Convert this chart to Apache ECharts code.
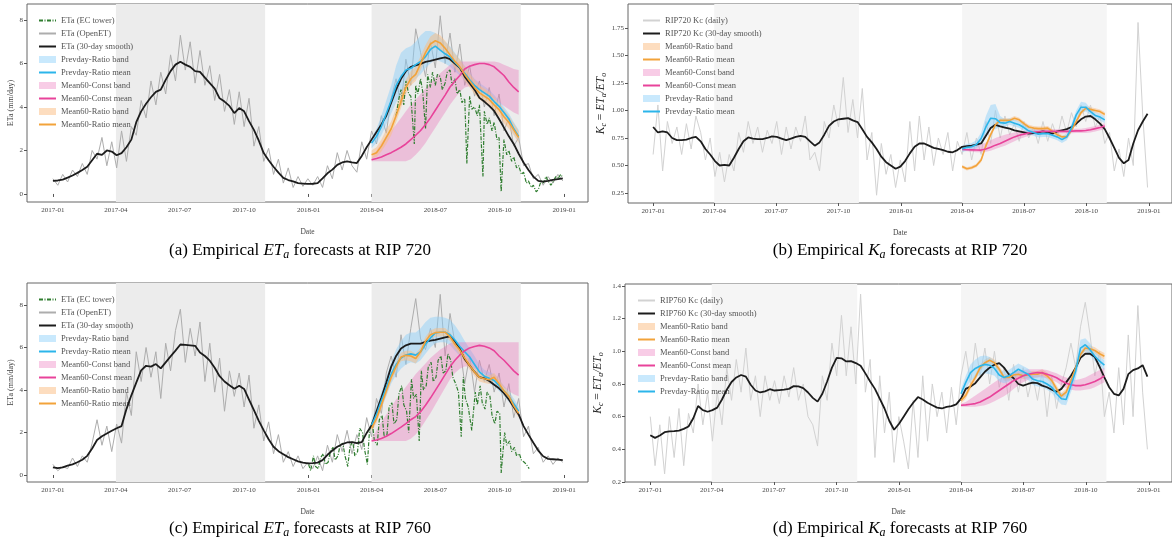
<!DOCTYPE html>
<html lang="en">
<head>
<meta charset="UTF-8">
<title>Empirical ETa / Ka forecasts</title>
<style>
  html, body { margin: 0; padding: 0; background: #fff; }
  #chart { width: 1172px; height: 542px; }
</style>
</head>
<body>
<div id="chart"></div>
<script src="https://cdn.jsdelivr.net/npm/echarts@6/dist/echarts.min.js"></script>
<script>
// ---- sample dates: weekly from 2017-01-01 (105 weeks), forecasts start at week 65 (2018-04-01)
var weekFirst = [2017, 0, 1];
var weekCount = 105;
var fcFirst = 65;
var weeks = [];
(function () {
  var t0 = Date.UTC(weekFirst[0], weekFirst[1], weekFirst[2]);
  for (var i = 0; i < weekCount; i++) weeks.push(new Date(t0 + i * 7 * 864e5).toISOString().slice(0, 10));
})();

var tickDates = ['2017-01-01', '2017-04-01', '2017-07-01', '2017-10-01', '2018-01-01', '2018-04-01', '2018-07-01', '2018-10-01', '2019-01-01'];
var tickLabels = ['2017-01', '2017-04', '2017-07', '2017-10', '2018-01', '2018-04', '2018-07', '2018-10', '2019-01'];
var spans = [['2017-04-01', '2017-10-31'], ['2018-04-01', '2018-10-31']];
var xRange = ['2016-11-25', '2019-02-04'];

// ---- (a) RIP 720 ETa
var openA = [0.7,0.4,0.9,0.55,1.1,0.8,1.4,0.9,2.0,1.6,2.6,1.3,2.4,1.2,2.9,1.5,3.1,2.7,4.3,3.5,5.2,4.1,5.6,4.6,6.4,5.2,7.3,5.7,7.0,5.1,6.6,5.0,5.9,4.3,5.5,3.8,4.8,3.2,4.7,3.1,4.4,2.2,3.1,1.5,2.1,0.9,1.6,0.5,1.2,0.3,0.8,0.35,0.7,
  0.4,0.8,0.3,1.3,0.7,1.9,1.1,2.0,1.3,1.0,2.4,1.6,2.9,2.3,3.6,2.8,4.4,5.3,4.1,6.2,5.0,7.6,6.5,5.4,7.0,5.8,8.2,6.0,7.4,5.6,6.9,5.0,5.9,4.5,5.2,4.0,4.9,3.6,4.6,2.9,3.5,2.2,2.6,1.3,1.4,0.7,0.9,0.4,0.8,0.5,0.9,0.6];
var smoothA = [0.6,0.62,0.66,0.75,0.85,0.97,1.1,1.25,1.55,1.85,1.8,2.0,1.95,1.78,1.88,2.15,2.5,3.3,3.8,4.15,4.45,4.7,4.8,5.25,5.65,5.95,6.08,5.95,5.85,5.65,5.62,5.35,5.1,4.85,4.4,4.25,4.05,3.72,3.95,3.8,3.35,2.95,2.45,1.88,1.55,1.25,0.98,0.74,0.64,0.58,0.5,0.48,0.46,
  0.47,0.5,0.72,0.95,1.12,1.34,1.45,1.5,1.45,1.42,1.75,2.15,2.5,2.85,3.2,3.6,4.2,4.8,5.3,5.65,5.85,5.92,5.98,6.08,6.12,6.18,6.24,6.28,6.2,6.0,5.8,5.4,5.1,4.8,4.42,4.25,4.05,3.82,3.45,3.05,2.65,2.3,1.85,1.45,1.1,0.8,0.6,0.57,0.6,0.65,0.68,0.72];
var towerA = [['2018-05-06',3.6],['2018-05-10',4.4],['2018-05-13',4.8],['2018-05-17',4.1],['2018-05-20',5.2],['2018-05-24',4.6],['2018-05-27',4.5],['2018-06-01',2.3],['2018-06-03',5.0],['2018-06-06',4.6],['2018-06-10',5.3],['2018-06-13',4.7],['2018-06-17',3.0],['2018-06-20',5.5],['2018-06-24',4.9],['2018-06-27',5.6],['2018-07-01',5.0],['2018-07-04',5.5],['2018-07-08',5.4],['2018-07-11',4.8],['2018-07-15',5.1],['2018-07-18',5.6],['2018-07-22',5.7],['2018-07-25',5.0],['2018-07-29',5.3],['2018-08-01',4.6],['2018-08-05',4.8],['2018-08-08',4.2],['2018-08-12',4.4],['2018-08-15',1.4],['2018-08-19',4.5],['2018-08-22',3.9],['2018-08-26',4.0],['2018-08-30',3.6],['2018-09-02',4.1],['2018-09-07',0.8],['2018-09-09',3.8],['2018-09-13',3.2],['2018-09-16',3.5],['2018-09-20',2.9],['2018-09-23',3.3],['2018-09-27',2.5],['2018-09-30',2.6],['2018-10-03',0.1],['2018-10-07',2.5],['2018-10-11',1.8],['2018-10-14',2.0],['2018-10-18',1.5],['2018-10-21',1.7],['2018-10-25',1.2],['2018-10-28',1.3],['2018-11-01',0.9],['2018-11-04',1.0],['2018-11-08',0.5],['2018-11-11',0.6],['2018-11-15',0.3],['2018-11-18',0.4],['2018-11-22',0.1],['2018-11-25',0.2],['2018-11-29',0.6],['2018-12-02',0.5],['2018-12-06',0.8],['2018-12-09',0.6],['2018-12-13',0.4],['2018-12-16',0.55],['2018-12-20',0.8],['2018-12-23',0.7],['2018-12-27',0.9],['2018-12-30',0.75]];
var pbMeanA = [2.34,2.65,3.1,3.7,4.3,4.98,5.4,5.7,5.78,5.95,6.1,6.32,6.65,6.8,6.62,6.45,6.3,6.05,5.82,5.55,5.25,5.0,4.8,4.65,4.5,4.25,4.03,3.75,3.45,3.0,2.65];
var pbHiA = [2.6,3.0,3.6,4.3,5.0,5.9,6.5,6.7,6.8,7.0,7.3,7.5,7.5,7.4,7.2,7.0,6.8,6.5,6.2,5.9,5.6,5.3,5.1,4.95,4.8,4.55,4.3,4.0,3.7,3.3,2.95];
var pbLoA = [2.1,2.35,2.7,3.2,3.7,4.2,4.6,4.9,5.1,5.3,5.5,5.8,6.0,6.2,6.1,6.0,5.85,5.65,5.45,5.2,4.95,4.7,4.5,4.4,4.25,4.0,3.8,3.5,3.2,2.75,2.4];
var mcMeanA = [1.57,1.63,1.7,1.8,1.9,2.02,2.15,2.3,2.5,2.7,2.92,3.2,3.5,3.85,4.2,4.55,4.92,5.2,5.45,5.75,5.88,5.95,6.0,6.0,5.95,5.85,5.65,5.45,5.15,4.9,4.7];
var mcHiA = [1.65,2.0,2.35,2.65,2.9,3.2,3.5,3.8,4.1,4.35,4.6,4.85,5.1,5.35,5.55,5.75,5.95,6.05,6.1,6.1,6.1,6.1,6.1,6.1,6.1,6.1,6.05,5.95,5.85,5.75,5.7];
var mcLoA = [1.5,1.5,1.5,1.5,1.5,1.5,1.5,1.5,1.6,1.8,2.05,2.35,2.7,3.05,3.4,3.75,4.1,4.4,4.7,4.9,4.95,4.9,4.8,4.65,4.5,4.35,4.2,4.05,3.9,3.75,3.65];
var mrMeanA = [1.8,1.9,2.2,2.6,3.0,3.6,4.25,4.9,5.3,5.5,6.0,6.5,6.9,7.05,6.95,6.7,6.4,6.1,5.85,5.5,5.2,4.9,4.65,4.5,4.35,4.1,3.88,3.55,3.3,2.95,2.6];
var mrHiA = [2.0,2.15,2.5,2.95,3.35,3.95,4.6,5.25,5.65,5.85,6.35,6.85,7.25,7.4,7.3,7.05,6.75,6.45,6.2,5.85,5.55,5.25,5.0,4.85,4.7,4.45,4.2,3.9,3.6,3.25,2.9];
var mrLoA = [1.65,1.7,1.95,2.3,2.7,3.3,3.95,4.6,5.0,5.2,5.7,6.2,6.6,6.75,6.65,6.4,6.1,5.8,5.55,5.2,4.9,4.6,4.35,4.2,4.05,3.8,3.6,3.25,3.0,2.7,2.35];

// ---- (b) RIP 720 Kc
var dailyB = [0.6,1.05,0.45,0.9,0.7,0.85,0.6,0.88,0.65,0.95,0.8,0.55,0.75,0.4,0.62,0.35,0.6,0.45,0.8,0.62,0.9,0.7,0.85,0.62,0.82,0.7,0.9,0.6,0.85,0.65,0.85,0.72,0.95,0.55,0.62,0.45,0.9,0.75,1.05,0.85,1.3,0.8,1.1,0.75,1.2,0.55,0.8,0.23,0.7,0.42,0.6,0.3,0.55,
  0.35,0.9,0.45,0.95,0.55,0.85,0.5,0.75,0.6,0.8,0.45,0.72,0.6,0.8,0.55,0.75,0.6,0.9,0.7,1.0,0.75,0.95,0.78,0.88,0.72,0.9,0.75,0.85,0.7,0.9,0.72,0.88,0.75,0.95,0.8,0.98,0.85,1.05,0.9,1.05,0.85,0.95,0.7,0.8,0.45,0.65,0.4,0.75,0.5,1.8,0.95,0.3];
var smoothB = [0.85,0.8,0.81,0.8,0.75,0.73,0.73,0.735,0.75,0.76,0.72,0.65,0.6,0.54,0.5,0.505,0.5,0.57,0.65,0.72,0.755,0.745,0.74,0.74,0.75,0.765,0.76,0.745,0.73,0.745,0.76,0.77,0.76,0.72,0.68,0.71,0.78,0.86,0.9,0.92,0.925,0.93,0.91,0.895,0.83,0.76,0.71,0.65,0.58,0.53,0.5,0.47,0.49,
  0.54,0.61,0.67,0.7,0.7,0.68,0.66,0.65,0.64,0.625,0.62,0.64,0.67,0.675,0.68,0.69,0.7,0.77,0.84,0.87,0.855,0.845,0.835,0.82,0.81,0.8,0.79,0.795,0.8,0.81,0.8,0.79,0.81,0.82,0.83,0.85,0.88,0.92,0.945,0.95,0.92,0.88,0.83,0.75,0.66,0.57,0.52,0.55,0.7,0.82,0.9,0.97];
var mrMeanB = [0.49,0.47,0.48,0.5,0.55,0.68,0.78,0.87,0.91,0.91,0.91,0.93,0.915,0.88,0.85,0.84,0.835,0.835,0.84,0.81,0.78,0.76,0.76,0.82,0.9,0.98,1.02,1.01,1.0,0.99,0.965];
var mrHiB = [0.505,0.485,0.495,0.515,0.57,0.7,0.8,0.89,0.93,0.93,0.93,0.95,0.935,0.9,0.87,0.86,0.855,0.855,0.86,0.83,0.8,0.78,0.78,0.84,0.92,1.0,1.04,1.03,1.02,1.01,0.985];
var mrLoB = [0.475,0.455,0.465,0.485,0.53,0.66,0.76,0.85,0.89,0.89,0.89,0.91,0.895,0.86,0.83,0.82,0.815,0.815,0.82,0.79,0.76,0.74,0.74,0.8,0.88,0.96,1.0,0.99,0.98,0.97,0.945];
var mcMeanB = [0.645,0.643,0.642,0.641,0.64,0.65,0.665,0.685,0.7,0.72,0.74,0.76,0.775,0.785,0.795,0.802,0.807,0.81,0.81,0.81,0.81,0.81,0.81,0.812,0.815,0.815,0.818,0.825,0.835,0.845,0.858];
var mcHiB = [0.655,0.66,0.67,0.68,0.69,0.71,0.73,0.75,0.765,0.78,0.79,0.8,0.81,0.815,0.82,0.825,0.83,0.83,0.83,0.83,0.83,0.83,0.83,0.832,0.835,0.835,0.84,0.85,0.86,0.87,0.885];
var mcLoB = [0.635,0.63,0.625,0.62,0.62,0.625,0.635,0.65,0.665,0.68,0.7,0.72,0.74,0.755,0.77,0.78,0.785,0.79,0.79,0.79,0.79,0.79,0.79,0.792,0.795,0.795,0.796,0.8,0.81,0.82,0.83];
var pbMeanB = [0.65,0.665,0.67,0.69,0.745,0.85,0.93,0.925,0.89,0.885,0.9,0.885,0.87,0.845,0.815,0.8,0.785,0.79,0.79,0.775,0.76,0.735,0.76,0.84,0.96,1.03,1.03,0.99,0.955,0.94,0.915];
var pbHiB = [0.68,0.695,0.705,0.73,0.8,0.95,1.05,1.06,0.95,0.92,0.93,0.915,0.9,0.875,0.845,0.83,0.815,0.82,0.82,0.805,0.79,0.765,0.79,0.88,1.0,1.08,1.07,1.02,0.985,0.97,0.945];
var pbLoB = [0.62,0.635,0.64,0.655,0.7,0.78,0.84,0.83,0.85,0.85,0.87,0.855,0.84,0.815,0.785,0.77,0.755,0.76,0.76,0.745,0.73,0.705,0.73,0.8,0.92,0.98,0.99,0.96,0.925,0.91,0.885];

// ---- (c) RIP 760 ETa
var openC = [0.5,0.2,0.4,0.3,0.8,0.4,0.9,0.6,1.5,2.6,1.4,2.3,1.1,2.4,1.5,3.9,2.8,5.8,4.4,6.0,4.6,5.8,3.6,6.2,4.9,6.8,7.8,5.3,6.9,5.6,7.2,4.4,6.2,3.9,5.5,3.0,4.9,3.7,4.8,3.2,4.7,2.2,3.3,1.6,2.5,1.0,1.9,0.6,1.1,0.4,0.9,0.3,0.6,
  0.3,0.9,0.2,1.4,0.6,1.9,1.1,2.1,1.0,1.9,1.2,2.7,1.8,3.6,2.9,4.8,5.6,4.6,6.6,5.2,6.9,8.3,6.4,5.9,6.9,6.0,8.5,5.6,7.6,6.2,6.0,4.3,5.6,3.9,5.4,4.4,5.2,3.9,4.8,3.2,4.3,2.7,3.6,1.8,2.3,1.0,1.3,0.6,0.9,0.5,0.8,0.6];
var smoothC = [0.36,0.32,0.36,0.44,0.5,0.6,0.72,0.9,1.25,1.65,1.82,1.95,2.08,2.2,2.3,3.1,3.75,4.35,4.92,5.14,5.1,5.22,5.02,5.3,5.58,5.85,6.14,6.12,6.1,6.08,5.76,5.6,5.38,5.05,4.65,4.4,4.22,4.06,4.2,4.05,3.55,3.05,2.55,2.1,1.68,1.33,1.12,0.98,0.84,0.74,0.64,0.58,0.55,
  0.56,0.58,0.7,0.95,1.15,1.33,1.45,1.53,1.55,1.5,1.55,1.98,2.34,3.0,3.65,4.35,5.1,5.6,5.95,6.1,6.18,6.18,6.18,6.27,6.32,6.36,6.42,6.48,6.52,6.3,5.94,5.45,5.15,4.85,4.6,4.55,4.42,4.25,4.08,3.85,3.55,3.2,2.85,2.3,1.9,1.52,1.15,0.88,0.76,0.74,0.72,0.7];
var towerC = [['2018-01-01',0.5],['2018-01-04',0.2],['2018-01-08',0.9],['2018-01-11',0.4],['2018-01-15',0.3],['2018-01-18',0.8],['2018-01-22',1.0],['2018-01-25',0.5],['2018-01-29',0.6],['2018-02-01',1.1],['2018-02-05',1.3],['2018-02-08',0.7],['2018-02-12',0.9],['2018-02-15',1.4],['2018-02-19',1.5],['2018-02-22',0.9],['2018-02-26',0.4],['2018-03-01',1.3],['2018-03-05',1.6],['2018-03-08',0.9],['2018-03-12',1.1],['2018-03-15',2.2],['2018-03-19',2.0],['2018-03-22',1.2],['2018-03-26',0.5],['2018-03-29',2.1],['2018-04-02',2.5],['2018-04-05',1.6],['2018-04-09',1.4],['2018-04-12',2.6],['2018-04-16',2.8],['2018-04-19',1.8],['2018-04-23',1.9],['2018-04-26',3.2],['2018-04-30',3.4],['2018-05-03',2.4],['2018-05-07',2.6],['2018-05-10',3.8],['2018-05-14',4.2],['2018-05-17',3.3],['2018-05-21',3.0],['2018-05-24',2.0],['2018-05-28',4.5],['2018-05-31',3.6],['2018-06-04',3.8],['2018-06-08',1.6],['2018-06-11',4.9],['2018-06-14',4.0],['2018-06-18',4.2],['2018-06-21',5.1],['2018-06-25',5.3],['2018-06-28',4.4],['2018-07-02',4.6],['2018-07-05',5.4],['2018-07-09',5.6],['2018-07-12',4.8],['2018-07-16',4.9],['2018-07-19',5.7],['2018-07-23',5.4],['2018-07-26',4.6],['2018-07-30',4.3],['2018-08-03',3.9],['2018-08-07',1.8],['2018-08-10',4.6],['2018-08-13',3.6],['2018-08-17',3.2],['2018-08-22',2.1],['2018-08-27',3.9],['2018-08-30',3.3],['2018-09-03',4.2],['2018-09-06',3.4],['2018-09-10',3.1],['2018-09-13',3.9],['2018-09-17',3.7],['2018-09-20',2.8],['2018-09-24',2.4],['2018-09-27',3.0],['2018-10-01',2.9],['2018-10-03',0.1],['2018-10-08',2.0],['2018-10-11',1.4],['2018-10-15',1.6],['2018-10-18',1.1],['2018-10-22',1.3],['2018-10-25',0.9],['2018-10-29',1.0],['2018-11-01',0.7],['2018-11-05',0.6],['2018-11-08',0.5],['2018-11-12',0.3]];
var pbMeanC = [2.34,2.85,3.5,4.1,4.75,5.2,5.5,5.65,5.7,5.64,5.8,6.15,6.45,6.68,6.72,6.72,6.6,6.35,6.05,5.8,5.55,5.2,4.85,4.65,4.55,4.45,4.22,3.95,3.7,3.35,3.0];
var pbHiC = [2.6,3.2,3.9,4.6,5.3,5.9,6.3,6.6,6.7,6.7,6.9,7.2,7.4,7.45,7.45,7.4,7.3,7.05,6.7,6.3,5.95,5.6,5.2,4.95,4.85,4.75,4.5,4.2,3.95,3.6,3.25];
var pbLoC = [2.1,2.55,3.15,3.7,4.3,4.7,5.0,5.2,5.3,5.25,5.4,5.7,6.0,6.2,6.25,6.25,6.1,5.85,5.6,5.4,5.2,4.9,4.55,4.4,4.3,4.2,3.95,3.7,3.45,3.1,2.75];
var mcMeanC = [1.6,1.65,1.72,1.82,1.95,2.1,2.25,2.42,2.6,2.75,2.98,3.28,3.62,3.98,4.35,4.72,5.1,5.4,5.65,5.85,5.98,6.05,6.1,6.06,5.98,5.85,5.6,5.4,5.15,4.9,4.7];
var mcHiC = [1.72,2.1,2.5,2.85,3.2,3.55,3.85,4.15,4.45,4.75,5.0,5.25,5.5,5.7,5.9,6.05,6.2,6.25,6.25,6.25,6.25,6.25,6.25,6.25,6.25,6.25,6.25,6.25,6.25,6.25,6.25];
var mcLoC = [1.6,1.6,1.6,1.6,1.6,1.6,1.6,1.6,1.7,1.9,2.2,2.55,2.9,3.3,3.7,4.1,4.5,4.8,5.0,5.1,5.1,5.0,4.9,4.75,4.6,4.45,4.3,4.1,3.95,3.8,3.7];
var mrMeanC = [2.19,2.65,3.3,3.95,4.6,5.1,5.55,5.63,5.6,5.48,5.8,6.3,6.6,6.7,6.72,6.72,6.5,6.15,5.88,5.5,5.15,4.85,4.6,4.53,4.48,4.6,4.3,3.95,3.7,3.25,2.9];
var mrHiC = [2.35,2.85,3.5,4.15,4.8,5.3,5.75,5.85,5.85,5.7,6.0,6.5,6.8,6.9,6.92,6.92,6.7,6.35,6.1,5.7,5.35,5.05,4.8,4.73,4.68,4.8,4.5,4.15,3.9,3.45,3.1];
var mrLoC = [2.05,2.45,3.1,3.75,4.4,4.9,5.35,5.4,5.35,5.25,5.6,6.1,6.4,6.5,6.52,6.52,6.3,5.95,5.66,5.3,4.95,4.65,4.4,4.33,4.28,4.4,4.1,3.75,3.5,3.05,2.7];

// ---- (d) RIP 760 Kc
var dailyD = [0.6,0.3,0.55,0.25,0.6,0.35,0.65,0.3,0.62,0.5,0.8,0.55,0.75,0.45,0.75,0.55,0.9,0.7,0.95,0.75,1.02,0.7,0.85,0.6,0.85,0.7,0.82,0.68,0.85,0.72,0.9,0.7,0.8,0.6,0.55,0.42,0.85,0.7,1.05,0.85,1.22,0.85,1.15,0.8,1.35,0.75,0.95,0.35,0.85,0.5,0.75,0.32,0.6,
  0.45,0.28,0.7,0.35,0.85,0.45,0.8,0.6,0.75,0.5,0.78,0.55,0.85,1.0,0.8,1.05,0.85,1.02,0.8,1.0,0.78,0.9,0.7,0.92,0.75,0.9,0.72,0.85,0.7,0.88,0.6,0.85,0.65,0.8,0.9,1.05,0.9,1.15,1.3,1.1,0.85,1.0,0.6,0.75,0.5,0.9,0.55,1.1,0.6,1.28,0.75,0.4];
var smoothD = [0.486,0.47,0.485,0.505,0.51,0.512,0.515,0.525,0.54,0.59,0.665,0.64,0.63,0.64,0.655,0.705,0.765,0.812,0.84,0.855,0.845,0.795,0.76,0.748,0.755,0.768,0.76,0.763,0.766,0.77,0.787,0.785,0.775,0.748,0.715,0.692,0.74,0.815,0.9,0.96,0.957,0.938,0.94,0.928,0.912,0.865,0.815,0.77,0.71,0.65,0.575,0.52,0.555,
  0.6,0.645,0.685,0.72,0.705,0.685,0.67,0.655,0.65,0.66,0.664,0.675,0.71,0.77,0.785,0.805,0.84,0.875,0.9,0.918,0.928,0.9,0.86,0.835,0.8,0.79,0.8,0.808,0.805,0.79,0.78,0.765,0.752,0.77,0.81,0.85,0.9,0.96,0.985,0.985,0.965,0.905,0.84,0.78,0.74,0.73,0.77,0.86,0.885,0.895,0.915,0.845];
var mrMeanD = [0.7,0.73,0.79,0.84,0.9,0.93,0.945,0.93,0.89,0.84,0.84,0.855,0.86,0.85,0.855,0.86,0.86,0.87,0.85,0.82,0.77,0.725,0.75,0.82,0.9,0.98,1.02,1.015,1.005,0.985,0.97];
var mrHiD = [0.72,0.75,0.81,0.86,0.92,0.95,0.965,0.95,0.91,0.86,0.86,0.875,0.88,0.87,0.875,0.88,0.88,0.89,0.87,0.84,0.79,0.745,0.77,0.84,0.92,1.0,1.04,1.035,1.025,1.005,0.99];
var mrLoD = [0.68,0.71,0.77,0.82,0.88,0.91,0.925,0.91,0.87,0.82,0.82,0.835,0.84,0.83,0.835,0.84,0.84,0.85,0.83,0.8,0.75,0.705,0.73,0.8,0.88,0.96,1.0,0.995,0.985,0.965,0.95];
var mcMeanD = [0.67,0.672,0.676,0.68,0.69,0.705,0.72,0.74,0.76,0.78,0.8,0.82,0.835,0.85,0.86,0.866,0.87,0.868,0.86,0.85,0.838,0.82,0.805,0.795,0.79,0.79,0.795,0.805,0.815,0.83,0.85];
var mcHiD = [0.68,0.69,0.71,0.73,0.75,0.77,0.79,0.81,0.83,0.845,0.86,0.87,0.88,0.885,0.89,0.89,0.89,0.89,0.885,0.875,0.865,0.85,0.84,0.83,0.825,0.83,0.84,0.855,0.87,0.885,0.9];
var mcLoD = [0.66,0.66,0.66,0.66,0.665,0.67,0.68,0.695,0.71,0.725,0.745,0.77,0.79,0.81,0.825,0.835,0.84,0.84,0.835,0.825,0.81,0.79,0.775,0.765,0.76,0.76,0.765,0.77,0.78,0.795,0.81];
var pbMeanD = [0.74,0.81,0.87,0.895,0.91,0.92,0.915,0.895,0.855,0.84,0.85,0.87,0.89,0.875,0.86,0.83,0.82,0.815,0.8,0.78,0.74,0.71,0.705,0.79,0.88,1.02,1.04,1.01,0.97,0.94,0.915];
var pbHiD = [0.77,0.85,0.92,0.95,0.97,0.975,0.965,0.94,0.895,0.875,0.885,0.905,0.925,0.91,0.895,0.865,0.855,0.85,0.835,0.815,0.775,0.745,0.74,0.83,0.93,1.07,1.08,1.05,1.0,0.97,0.945];
var pbLoD = [0.71,0.77,0.82,0.84,0.855,0.865,0.86,0.85,0.815,0.805,0.815,0.835,0.855,0.84,0.825,0.795,0.785,0.78,0.765,0.745,0.705,0.675,0.67,0.75,0.83,0.97,1.0,0.975,0.94,0.91,0.885];

// ---- styling
var FONT = "'Liberation Serif', 'DejaVu Serif', serif";
var C = {
  grey: '#adadad', greyLight: '#d2d2d2', black: '#1c1c1c', green: '#2f7d2f',
  blue: '#2bb5ea', pink: '#e8439a', orange: '#f2a33a',
  blueBand: 'rgba(135,206,250,0.45)', pinkBand: 'rgba(236,110,182,0.35)', orangeBand: 'rgba(252,188,128,0.5)',
  span: '#ececec', spanLight: '#f5f5f5'
};

// dates -> timestamps (x axes are plain value axes holding ms)
function ts(d) { return echarts.number.parseDate(d).getTime(); }
function onWeeks(vals, from) {
  return vals.map(function (v, i) { return [ts(weeks[from + i]), v]; });
}
function pairs(list) {
  return list.map(function (p) { return [ts(p[0]), p[1]]; });
}
function line(gi, name, data, color, width, z, dash) {
  return { type: 'line', name: name, xAxisIndex: gi, yAxisIndex: gi, data: data, symbol: 'none', z: z, silent: true,
    lineStyle: { color: color, width: width, type: dash || 'solid' }, itemStyle: { color: color } };
}
// band: one filled polygon through the upper edge and back along the lower edge
function band(gi, name, lo, hi, color) {
  var rows = lo.map(function (v, i) { return [ts(weeks[fcFirst + i]), v, hi[i]]; });
  return {
    type: 'custom', name: name, xAxisIndex: gi, yAxisIndex: gi, data: rows, z: 3, silent: true,
    encode: { x: 0, y: [1, 2] }, itemStyle: { color: color },
    renderItem: function (params, api) {
      if (params.dataIndex !== 0) return null;
      var top = [], bottom = [];
      rows.forEach(function (r) {
        top.push(api.coord([r[0], r[2]]));
        bottom.unshift(api.coord([r[0], r[1]]));
      });
      return { type: 'polygon', shape: { points: top.concat(bottom) }, style: { fill: color, stroke: null } };
    }
  };
}
function spanArea(color) {
  return { silent: true, itemStyle: { color: color }, data: spans.map(function (s) { return [{ xAxis: ts(s[0]) }, { xAxis: ts(s[1]) }]; }) };
}

var series = [];
function etPanel(gi, open, smooth, tower, f) {
  var s = line(gi, 'ETa (OpenET)', onWeeks(open, 0), C.grey, 1, 2);
  s.markArea = spanArea(C.span);
  series.push(s);
  series.push(line(gi, 'ETa (EC tower)', pairs(tower), C.green, 1.2, 3, [4, 1.5, 1, 1.5]));
  series.push(line(gi, 'ETa (30-day smooth)', onWeeks(smooth, 0), C.black, 1.8, 4));
  series.push(band(gi, 'Prevday-Ratio band', f.pbLo, f.pbHi, C.blueBand));
  series.push(band(gi, 'Mean60-Const band', f.mcLo, f.mcHi, C.pinkBand));
  series.push(band(gi, 'Mean60-Ratio band', f.mrLo, f.mrHi, C.orangeBand));
  series.push(line(gi, 'Prevday-Ratio mean', onWeeks(f.pb, fcFirst), C.blue, 1.6, 5));
  series.push(line(gi, 'Mean60-Const mean', onWeeks(f.mc, fcFirst), C.pink, 1.6, 5));
  series.push(line(gi, 'Mean60-Ratio mean', onWeeks(f.mr, fcFirst), C.orange, 1.6, 5));
}
function kcPanel(gi, site, daily, smooth, f) {
  var s = line(gi, site + ' Kc (daily)', onWeeks(daily, 0), C.greyLight, 1, 2);
  s.markArea = spanArea(C.spanLight);
  series.push(s);
  series.push(line(gi, site + ' Kc (30-day smooth)', onWeeks(smooth, 0), C.black, 1.8, 4));
  series.push(band(gi, 'Mean60-Ratio band', f.mrLo, f.mrHi, C.orangeBand));
  series.push(band(gi, 'Mean60-Const band', f.mcLo, f.mcHi, C.pinkBand));
  series.push(band(gi, 'Prevday-Ratio band', f.pbLo, f.pbHi, C.blueBand));
  series.push(line(gi, 'Mean60-Ratio mean', onWeeks(f.mr, fcFirst), C.orange, 1.6, 5));
  series.push(line(gi, 'Mean60-Const mean', onWeeks(f.mc, fcFirst), C.pink, 1.6, 5));
  series.push(line(gi, 'Prevday-Ratio mean', onWeeks(f.pb, fcFirst), C.blue, 1.6, 5));
}

etPanel(0, openA, smoothA, towerA, { pb: pbMeanA, pbLo: pbLoA, pbHi: pbHiA, mc: mcMeanA, mcLo: mcLoA, mcHi: mcHiA, mr: mrMeanA, mrLo: mrLoA, mrHi: mrHiA });
kcPanel(1, 'RIP720', dailyB, smoothB, { pb: pbMeanB, pbLo: pbLoB, pbHi: pbHiB, mc: mcMeanB, mcLo: mcLoB, mcHi: mcHiB, mr: mrMeanB, mrLo: mrLoB, mrHi: mrHiB });
etPanel(2, openC, smoothC, towerC, { pb: pbMeanC, pbLo: pbLoC, pbHi: pbHiC, mc: mcMeanC, mcLo: mcLoC, mcHi: mcHiC, mr: mrMeanC, mrLo: mrLoC, mrHi: mrHiC });
kcPanel(3, 'RIP760', dailyD, smoothD, { pb: pbMeanD, pbLo: pbLoD, pbHi: pbHiD, mc: mcMeanD, mcLo: mcLoD, mcHi: mcHiD, mr: mrMeanD, mrLo: mrLoD, mrHi: mrHiD });

// ---- axes
var tickTimes = tickDates.map(ts);
var axisText = { fontFamily: FONT, fontSize: 7, color: '#444' };

function xAxis(gi) {
  return {
    type: 'value', gridIndex: gi, min: ts(xRange[0]), max: ts(xRange[1]), scale: true,
    name: 'Date', nameLocation: 'middle', nameGap: 26, nameTextStyle: { fontFamily: FONT, fontSize: 7.5, color: '#444' },
    axisLine: { show: false }, splitLine: { show: false },
    axisTick: { show: true, length: 3, customValues: tickTimes, lineStyle: { color: '#555' } },
    axisLabel: Object.assign({ margin: 5, customValues: tickTimes, formatter: function (v) {
      var i = tickTimes.indexOf(v); return i >= 0 ? tickLabels[i] : '';
    } }, axisText)
  };
}
function yAxis(gi, min, max, ticks, fmt, name, nameGap, rich) {
  return {
    type: 'value', gridIndex: gi, min: min, max: max,
    name: name, nameLocation: 'middle', nameGap: nameGap, nameRotate: 90,
    nameTextStyle: { fontFamily: FONT, fontSize: 8, color: '#444', rich: rich },
    axisLine: { show: false }, splitLine: { show: false },
    axisTick: { show: true, length: 3, customValues: ticks, lineStyle: { color: '#555' } },
    axisLabel: Object.assign({ margin: 4, customValues: ticks, formatter: fmt }, axisText)
  };
}
var kcRich = {
  i: { fontFamily: FONT, fontStyle: 'italic', fontSize: 11.5, color: '#222' },
  s: { fontFamily: FONT, fontStyle: 'italic', fontSize: 8, color: '#222', padding: [6, 0, 0, 0] },
  n: { fontFamily: FONT, fontSize: 11.5, color: '#222' }
};
var kcName = '{i|K}{s|c}{n| = }{i|ET}{s|a}{i|/ET}{s|o}';

// ---- legends
function legendItems(names) {
  var bandColor = { 'Prevday-Ratio band': C.blueBand, 'Mean60-Const band': C.pinkBand, 'Mean60-Ratio band': C.orangeBand };
  return names.map(function (n) {
    return bandColor[n] ? { name: n, icon: 'rect', itemStyle: { color: bandColor[n], opacity: 1 } } : { name: n, itemStyle: { opacity: 0 } };
  });
}
var etLegend = ['ETa (EC tower)', 'ETa (OpenET)', 'ETa (30-day smooth)', 'Prevday-Ratio band', 'Prevday-Ratio mean', 'Mean60-Const band', 'Mean60-Const mean', 'Mean60-Ratio band', 'Mean60-Ratio mean'];
function kcLegend(site) {
  return [site + ' Kc (daily)', site + ' Kc (30-day smooth)', 'Mean60-Ratio band', 'Mean60-Ratio mean', 'Mean60-Const band', 'Mean60-Const mean', 'Prevday-Ratio band', 'Prevday-Ratio mean'];
}
function legend(left, top, names) {
  return { orient: 'vertical', left: left, top: top, itemWidth: 17, itemHeight: 7, itemGap: 4, selectedMode: false,
    textStyle: { fontFamily: FONT, fontSize: 8.5, color: '#555' }, data: legendItems(names) };
}

// ---- captions
var capRich = {
  n: { fontFamily: FONT, fontSize: 17, color: '#222' },
  i: { fontFamily: FONT, fontSize: 17, fontStyle: 'italic', color: '#222' },
  s: { fontFamily: FONT, fontSize: 12, fontStyle: 'italic', color: '#222', padding: [8, 0, 0, 0] }
};
function caption(x, y, letter, sym, site) {
  var t = '{n|(' + letter + ') Empirical }{i|' + sym[0] + '}{s|' + sym[1] + '}{n| forecasts at RIP ' + site + '}';
  return { type: 'text', x: x, y: y, silent: true,
    style: { text: t, rich: capRich, align: 'center', verticalAlign: 'middle' } };
}

var chart = echarts.init(document.getElementById('chart'), null, { renderer: 'canvas' });
chart.setOption({
  animation: false,
  backgroundColor: '#fff',
  grid: [
    { left: 27, top: 4, width: 561, height: 198, show: true, borderColor: '#666', borderWidth: 1, backgroundColor: 'transparent' },
    { left: 628, top: 4, width: 552, height: 199, show: true, borderColor: '#666', borderWidth: 1, backgroundColor: 'transparent' },
    { left: 27, top: 283, width: 561, height: 199, show: true, borderColor: '#666', borderWidth: 1, backgroundColor: 'transparent' },
    { left: 625, top: 284, width: 554, height: 198, show: true, borderColor: '#666', borderWidth: 1, backgroundColor: 'transparent' }
  ],
  xAxis: [xAxis(0), xAxis(1), xAxis(2), xAxis(3)],
  yAxis: [
    yAxis(0, -0.37, 8.74, [0, 2, 4, 6, 8], function (v) { return String(v); }, 'ETa (mm/day)', 12),
    yAxis(1, 0.159, 1.968, [0.25, 0.5, 0.75, 1.0, 1.25, 1.5, 1.75], function (v) { return v.toFixed(2); }, kcName, 20, kcRich),
    yAxis(2, -0.33, 9.035, [0, 2, 4, 6, 8], function (v) { return String(v); }, 'ETa (mm/day)', 12),
    yAxis(3, 0.2, 1.412, [0.2, 0.4, 0.6, 0.8, 1.0, 1.2, 1.4], function (v) { return v.toFixed(1); }, kcName, 20, kcRich)
  ],
  legend: [
    legend(33, 11, etLegend),
    legend(637, 11, kcLegend('RIP720')),
    legend(33, 290, etLegend),
    legend(632, 291, kcLegend('RIP760'))
  ],
  graphic: [
    caption(300, 251, 'a', ['ET', 'a'], '720'),
    caption(900, 251, 'b', ['K', 'a'], '720'),
    caption(300, 529, 'c', ['ET', 'a'], '760'),
    caption(900, 529, 'd', ['K', 'a'], '760')
  ],
  series: series
});
</script>
</body>
</html>
